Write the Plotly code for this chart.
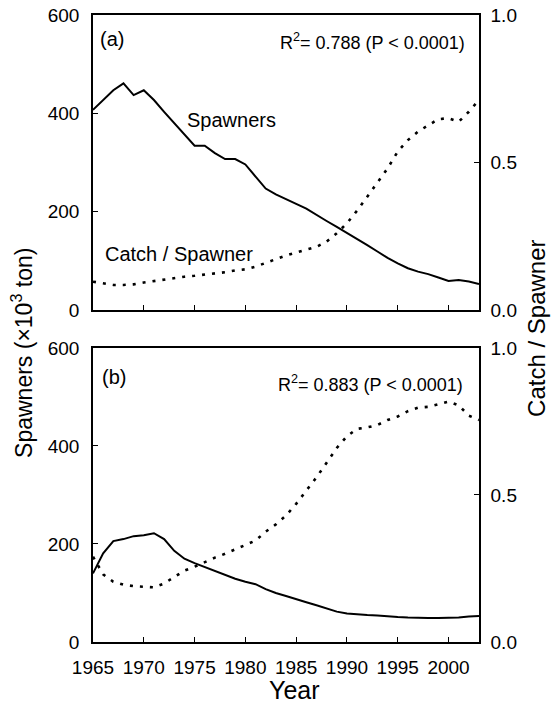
import plotly.graph_objects as go

years = list(range(1965, 2004))

# Panel (a)
spawners_a = [407, 427, 447, 461, 437, 447, 427, 403, 380, 356,
              334, 334, 319, 307, 307, 296, 271, 247, 235, 226,
              216, 206, 193, 181, 169, 157, 144, 132, 119, 106,
              95, 85, 78, 73, 66, 59, 61, 58, 53]
catch_ratio_a = [0.096, 0.090, 0.085, 0.085, 0.087, 0.093, 0.098, 0.104, 0.110, 0.113,
                 0.116, 0.120, 0.123, 0.128, 0.134, 0.138, 0.147, 0.160, 0.174, 0.185,
                 0.195, 0.205, 0.214, 0.232, 0.260, 0.294, 0.337, 0.384, 0.432, 0.480,
                 0.537, 0.576, 0.605, 0.627, 0.647, 0.650, 0.638, 0.672, 0.712]

# Panel (b)
spawners_b = [140, 181, 206, 210, 216, 218, 222, 210, 186, 170,
              161, 153, 145, 136, 129, 123, 118, 108, 100, 94,
              87, 81, 75, 69, 62, 58, 56, 55, 54, 52,
              51, 50, 49, 49, 49, 49, 50, 52, 53]
catch_ratio_b = [0.290, 0.230, 0.205, 0.195, 0.190, 0.187, 0.186, 0.199, 0.220, 0.243,
                 0.256, 0.272, 0.287, 0.300, 0.315, 0.328, 0.345, 0.375, 0.400, 0.430,
                 0.470, 0.515, 0.560, 0.610, 0.660, 0.700, 0.725, 0.730, 0.738, 0.755,
                 0.767, 0.785, 0.797, 0.800, 0.808, 0.818, 0.805, 0.770, 0.755]

x_ticks = [1965, 1970, 1975, 1980, 1985, 1990, 1995, 2000]
left_ticks = [0, 200, 400, 600]
right_ticks = [0.0, 0.5, 1.0]
right_ticklabels = ["0.0", "0.5", "1.0"]

FONT = "Liberation Sans, Arial, sans-serif"
solid = dict(color="black", width=2)
dotted = dict(color="black", width=2.6, dash="3px,7px")

fig = go.Figure()
fig.add_trace(go.Scatter(x=years, y=spawners_a, mode="lines", line=solid, xaxis="x", yaxis="y"))
fig.add_trace(go.Scatter(x=years, y=catch_ratio_a, mode="lines", line=dotted, xaxis="x", yaxis="y2"))
fig.add_trace(go.Scatter(x=years, y=spawners_b, mode="lines", line=solid, xaxis="x2", yaxis="y3"))
fig.add_trace(go.Scatter(x=years, y=catch_ratio_b, mode="lines", line=dotted, xaxis="x2", yaxis="y4"))

axis_common = dict(showline=True, linecolor="black", linewidth=1.5, ticks="inside",
                   ticklen=5, tickwidth=1.2, tickcolor="black", showgrid=False, zeroline=False,
                   automargin=False,
                   tickfont=dict(family=FONT, size=19, color="black"))

top_dom = [0.5295, 1.0]
bot_dom = [0.0, 0.4689]

fig.update_layout(
    width=552, height=704,
    margin=dict(l=93, r=73, t=15, b=62, autoexpand=False),
    paper_bgcolor="white", plot_bgcolor="white",
    showlegend=False,
    xaxis=dict(axis_common, domain=[0, 1], anchor="y", range=[1965, 2003], tickvals=x_ticks,
               showticklabels=False, mirror=True),
    xaxis2=dict(axis_common, domain=[0, 1], anchor="y3", range=[1965, 2003], tickvals=x_ticks,
                mirror=True, ticklabelstandoff=7),
    yaxis=dict(axis_common, domain=top_dom, anchor="x", range=[0, 600], tickvals=left_ticks,
               ticklabelstandoff=8),
    yaxis2=dict(axis_common, domain=top_dom, anchor="x", overlaying="y", side="right",
                range=[0, 1], tickvals=right_ticks, ticktext=right_ticklabels, ticklabelstandoff=6),
    yaxis3=dict(axis_common, domain=bot_dom, anchor="x2", range=[0, 600], tickvals=left_ticks,
                ticklabelstandoff=8),
    yaxis4=dict(axis_common, domain=bot_dom, anchor="x2", overlaying="y3", side="right",
                range=[0, 1], tickvals=right_ticks, ticktext=right_ticklabels, ticklabelstandoff=6),
)

ann_font = dict(family=FONT, color="black")
annotations = [
    dict(text="(a)", xref="paper", yref="paper", x=0.013, y=0.9617, xanchor="left", yanchor="middle",
         showarrow=False, font=dict(ann_font, size=20)),
    dict(text="(b)", xref="paper", yref="paper", x=0.018, y=0.4226, xanchor="left", yanchor="middle",
         showarrow=False, font=dict(ann_font, size=20)),
    dict(text="R<sup>2</sup>= 0.788 (P &lt; 0.0001)", xref="paper", yref="paper", x=0.969, y=0.957,
         xanchor="right", yanchor="middle", showarrow=False, font=dict(ann_font, size=18)),
    dict(text="R<sup>2</sup>= 0.883 (P &lt; 0.0001)", xref="paper", yref="paper", x=0.964, y=0.413,
         xanchor="right", yanchor="middle", showarrow=False, font=dict(ann_font, size=18)),
    dict(text="Spawners", xref="x", yref="y", x=1978.6, y=386, xanchor="center", yanchor="middle",
         showarrow=False, font=dict(ann_font, size=20)),
    dict(text="Catch / Spawner", xref="x", yref="y", x=1973.5, y=114, xanchor="center",
         yanchor="middle", showarrow=False, font=dict(ann_font, size=20)),
    dict(text="Spawners (×10<sup>3</sup> ton)", xref="paper", yref="paper", x=-0.184, y=0.461,
         xanchor="center", yanchor="middle", textangle=-90, showarrow=False,
         font=dict(ann_font, size=23)),
    dict(text="Catch / Spawner", xref="paper", yref="paper", x=1.150, y=0.5008,
         xanchor="center", yanchor="middle", textangle=-90, showarrow=False,
         font=dict(ann_font, size=24)),
    dict(text="Year", xref="paper", yref="paper", x=0.523, y=-0.0765, xanchor="center",
         yanchor="middle", showarrow=False, font=dict(ann_font, size=25)),
]
fig.update_layout(annotations=annotations)

fig.write_html("out.html", config={"displayModeBar": False},
               post_script="document.body.style.margin='0';document.body.style.overflow='hidden';")
